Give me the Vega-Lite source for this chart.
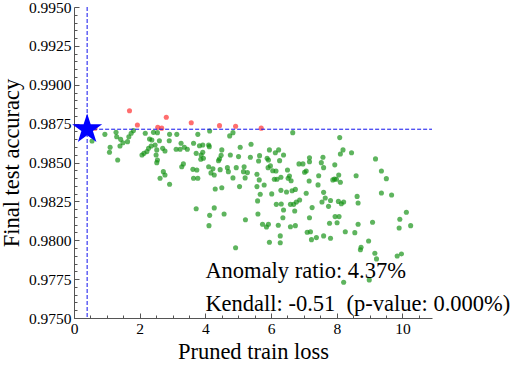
{
  "$schema": "https://vega.github.io/schema/vega-lite/v6.json",
  "width": 358,
  "height": 311,
  "autosize": {"type": "none"},
  "padding": {"left": 74, "top": 7, "right": 83, "bottom": 47},
  "config": {"view": {"stroke": null}, "font": "Liberation Serif"},
  "resolve": {"axis": {"x": "independent", "y": "independent"}},
  "datasets": {
    "pts": [
      {"x":1.69,"y":0.98833,"g":"a"},{"x":2.81,"y":0.98791,"g":"a"},{"x":1.93,"y":0.98741,"g":"a"},{"x":2.55,"y":0.98726,"g":"a"},{"x":2.67,"y":0.98721,"g":"a"},{"x":3.57,"y":0.98756,"g":"a"},{"x":0.64,"y":0.98720,"g":"a"},{"x":4.43,"y":0.98737,"g":"a"},{"x":4.92,"y":0.98733,"g":"a"},{"x":5.70,"y":0.98721,"g":"a"},
      {"x":0.55,"y":0.98638,"g":"n"},{"x":0.94,"y":0.98681,"g":"n"},{"x":1.28,"y":0.98694,"g":"n"},{"x":1.30,"y":0.98666,"g":"n"},{"x":1.42,"y":0.98649,"g":"n"},{"x":1.49,"y":0.98627,"g":"n"},{"x":1.63,"y":0.98634,"g":"n"},{"x":1.67,"y":0.98666,"g":"n"},{"x":1.74,"y":0.98688,"g":"n"},{"x":1.81,"y":0.98705,"g":"n"},
      {"x":1.40,"y":0.98606,"g":"n"},{"x":1.10,"y":0.98598,"g":"n"},{"x":1.08,"y":0.98566,"g":"n"},{"x":1.33,"y":0.98516,"g":"n"},{"x":2.17,"y":0.98688,"g":"n"},{"x":2.42,"y":0.98694,"g":"n"},{"x":2.54,"y":0.98692,"g":"n"},{"x":2.37,"y":0.98645,"g":"n"},{"x":2.30,"y":0.98651,"g":"n"},{"x":2.60,"y":0.98640,"g":"n"},
      {"x":2.47,"y":0.98613,"g":"n"},{"x":2.35,"y":0.98606,"g":"n"},{"x":2.27,"y":0.98591,"g":"n"},{"x":2.22,"y":0.98570,"g":"n"},{"x":2.13,"y":0.98559,"g":"n"},{"x":2.07,"y":0.98548,"g":"n"},{"x":2.52,"y":0.98581,"g":"n"},{"x":2.50,"y":0.98548,"g":"n"},{"x":2.54,"y":0.98516,"g":"n"},{"x":2.52,"y":0.98499,"g":"n"},
      {"x":2.70,"y":0.98591,"g":"n"},{"x":2.77,"y":0.98574,"g":"n"},{"x":2.91,"y":0.98681,"g":"n"},{"x":3.13,"y":0.98681,"g":"n"},{"x":2.90,"y":0.98640,"g":"n"},{"x":3.26,"y":0.98624,"g":"n"},{"x":3.11,"y":0.98585,"g":"n"},{"x":3.23,"y":0.98585,"g":"n"},{"x":3.36,"y":0.98598,"g":"n"},{"x":3.45,"y":0.98585,"g":"n"},
      {"x":3.64,"y":0.98624,"g":"n"},{"x":3.77,"y":0.98681,"g":"n"},{"x":3.72,"y":0.98559,"g":"n"},{"x":3.28,"y":0.98473,"g":"n"},{"x":3.33,"y":0.98491,"g":"n"},{"x":3.62,"y":0.98456,"g":"n"},{"x":3.74,"y":0.98452,"g":"n"},{"x":2.72,"y":0.98441,"g":"n"},{"x":2.77,"y":0.98420,"g":"n"},{"x":2.62,"y":0.98399,"g":"n"},
      {"x":2.91,"y":0.98360,"g":"n"},{"x":3.64,"y":0.98399,"g":"n"},{"x":3.77,"y":0.98399,"g":"n"},
      {"x":4.13,"y":0.98703,"g":"n"},{"x":4.74,"y":0.98671,"g":"n"},{"x":4.84,"y":0.98692,"g":"n"},{"x":6.66,"y":0.98692,"g":"n"},{"x":3.82,"y":0.98608,"g":"n"},{"x":3.92,"y":0.98613,"g":"n"},{"x":4.10,"y":0.98613,"g":"n"},{"x":4.12,"y":0.98602,"g":"n"},{"x":3.87,"y":0.98548,"g":"n"},{"x":3.92,"y":0.98566,"g":"n"},
      {"x":3.86,"y":0.98521,"g":"n"},{"x":3.94,"y":0.98527,"g":"n"},{"x":4.50,"y":0.98581,"g":"n"},{"x":4.48,"y":0.98546,"g":"n"},{"x":4.43,"y":0.98523,"g":"n"},{"x":4.40,"y":0.98512,"g":"n"},{"x":4.76,"y":0.98548,"g":"n"},{"x":5.06,"y":0.98598,"g":"n"},{"x":5.39,"y":0.98617,"g":"n"},{"x":5.01,"y":0.98538,"g":"n"},
      {"x":5.37,"y":0.98534,"g":"n"},{"x":5.62,"y":0.98510,"g":"n"},{"x":5.65,"y":0.98544,"g":"n"},{"x":5.95,"y":0.98581,"g":"n"},{"x":6.13,"y":0.98563,"g":"n"},{"x":6.23,"y":0.98581,"g":"n"},{"x":6.38,"y":0.98548,"g":"n"},{"x":6.26,"y":0.98512,"g":"n"},{"x":5.88,"y":0.98527,"g":"n"},{"x":5.92,"y":0.98516,"g":"n"},
      {"x":5.98,"y":0.98478,"g":"n"},{"x":5.91,"y":0.98467,"g":"n"},{"x":6.05,"y":0.98447,"g":"n"},{"x":6.15,"y":0.98445,"g":"n"},{"x":6.50,"y":0.98452,"g":"n"},{"x":4.10,"y":0.98473,"g":"n"},{"x":4.23,"y":0.98460,"g":"n"},{"x":4.17,"y":0.98433,"g":"n"},{"x":4.27,"y":0.98420,"g":"n"},{"x":4.45,"y":0.98454,"g":"n"},
      {"x":4.67,"y":0.98467,"g":"n"},{"x":4.94,"y":0.98467,"g":"n"},{"x":4.70,"y":0.98441,"g":"n"},{"x":5.18,"y":0.98473,"g":"n"},{"x":5.16,"y":0.98441,"g":"n"},{"x":5.28,"y":0.98435,"g":"n"},{"x":5.21,"y":0.98401,"g":"n"},{"x":4.84,"y":0.98401,"g":"n"},{"x":5.57,"y":0.98424,"g":"n"},{"x":5.64,"y":0.98388,"g":"n"},
      {"x":5.79,"y":0.98355,"g":"n"},{"x":6.10,"y":0.98392,"g":"n"},{"x":6.18,"y":0.98392,"g":"n"},{"x":6.30,"y":0.98405,"g":"n"},{"x":6.52,"y":0.98399,"g":"n"},{"x":6.56,"y":0.98413,"g":"n"},{"x":6.61,"y":0.98383,"g":"n"},{"x":6.85,"y":0.98491,"g":"n"},{"x":6.97,"y":0.98491,"g":"n"},{"x":7.17,"y":0.98531,"g":"n"},
      {"x":7.17,"y":0.98505,"g":"n"},{"x":7.07,"y":0.98445,"g":"n"},{"x":7.02,"y":0.98437,"g":"n"},{"x":7.16,"y":0.98381,"g":"n"},{"x":7.45,"y":0.98415,"g":"n"},{"x":5.04,"y":0.98345,"g":"n"},{"x":5.57,"y":0.98345,"g":"n"},{"x":4.30,"y":0.98330,"g":"n"},{"x":4.50,"y":0.98338,"g":"n"},
      {"x":8.09,"y":0.98660,"g":"n"},{"x":8.19,"y":0.98581,"g":"n"},{"x":8.11,"y":0.98555,"g":"n"},{"x":8.45,"y":0.98563,"g":"n"},{"x":7.58,"y":0.98534,"g":"n"},{"x":7.53,"y":0.98499,"g":"n"},{"x":7.60,"y":0.98467,"g":"n"},{"x":7.94,"y":0.98485,"g":"n"},{"x":9.18,"y":0.98523,"g":"n"},{"x":9.36,"y":0.98445,"g":"n"},
      {"x":9.51,"y":0.98396,"g":"n"},{"x":8.06,"y":0.98420,"g":"n"},{"x":7.93,"y":0.98394,"g":"n"},{"x":7.88,"y":0.98388,"g":"n"},{"x":7.99,"y":0.98392,"g":"n"},{"x":8.11,"y":0.98373,"g":"n"},{"x":8.59,"y":0.98415,"g":"n"},{"x":7.43,"y":0.98356,"g":"n"},
      {"x":3.72,"y":0.98203,"g":"n"},{"x":4.27,"y":0.98208,"g":"n"},{"x":4.13,"y":0.98160,"g":"n"},{"x":4.57,"y":0.98169,"g":"n"},{"x":4.11,"y":0.98094,"g":"n"},{"x":5.22,"y":0.98132,"g":"n"},{"x":4.92,"y":0.97952,"g":"n"},{"x":5.67,"y":0.98296,"g":"n"},{"x":6.02,"y":0.98298,"g":"n"},{"x":5.59,"y":0.98253,"g":"n"},
      {"x":5.60,"y":0.98169,"g":"n"},{"x":5.74,"y":0.98103,"g":"n"},{"x":5.92,"y":0.98103,"g":"n"},{"x":5.86,"y":0.98085,"g":"n"},{"x":6.22,"y":0.98096,"g":"n"},{"x":6.16,"y":0.98231,"g":"n"},{"x":6.31,"y":0.98233,"g":"n"},{"x":6.38,"y":0.98195,"g":"n"},{"x":6.30,"y":0.98321,"g":"n"},{"x":6.47,"y":0.98310,"g":"n"},
      {"x":6.64,"y":0.98318,"g":"n"},{"x":6.74,"y":0.98327,"g":"n"},{"x":6.59,"y":0.98231,"g":"n"},{"x":6.69,"y":0.98231,"g":"n"},{"x":6.77,"y":0.98246,"g":"n"},{"x":6.87,"y":0.98259,"g":"n"},{"x":6.72,"y":0.98188,"g":"n"},{"x":6.36,"y":0.98145,"g":"n"},{"x":6.59,"y":0.98087,"g":"n"},{"x":6.74,"y":0.98094,"g":"n"},
      {"x":6.28,"y":0.98028,"g":"n"},{"x":6.28,"y":0.97984,"g":"n"},{"x":5.95,"y":0.97987,"g":"n"},{"x":7.07,"y":0.98302,"g":"n"},{"x":7.17,"y":0.98145,"g":"n"},{"x":7.25,"y":0.98210,"g":"n"},{"x":7.10,"y":0.98051,"g":"n"},{"x":7.20,"y":0.98055,"g":"n"},{"x":7.23,"y":0.98004,"g":"n"},{"x":7.38,"y":0.98017,"g":"n"},
      {"x":7.60,"y":0.98308,"g":"n"},{"x":7.65,"y":0.98272,"g":"n"},{"x":7.55,"y":0.98246,"g":"n"},{"x":7.81,"y":0.98256,"g":"n"},{"x":7.75,"y":0.98218,"g":"n"},{"x":8.05,"y":0.98250,"g":"n"},{"x":8.14,"y":0.98235,"g":"n"},{"x":8.21,"y":0.98246,"g":"n"},{"x":8.62,"y":0.98282,"g":"n"},{"x":8.65,"y":0.98240,"g":"n"},
      {"x":9.36,"y":0.98304,"g":"n"},{"x":9.67,"y":0.98291,"g":"n"},{"x":7.95,"y":0.98152,"g":"n"},{"x":8.07,"y":0.98152,"g":"n"},{"x":7.78,"y":0.98109,"g":"n"},{"x":8.01,"y":0.98113,"g":"n"},{"x":8.65,"y":0.98103,"g":"n"},{"x":9.09,"y":0.98116,"g":"n"},{"x":10.12,"y":0.98180,"g":"n"},{"x":9.92,"y":0.98135,"g":"n"},
      {"x":10.25,"y":0.98094,"g":"n"},{"x":9.90,"y":0.98079,"g":"n"},{"x":8.26,"y":0.98055,"g":"n"},{"x":8.55,"y":0.98049,"g":"n"},{"x":7.60,"y":0.98028,"g":"n"},{"x":7.81,"y":0.98013,"g":"n"},{"x":8.97,"y":0.97995,"g":"n"},{"x":8.74,"y":0.97955,"g":"n"},{"x":8.72,"y":0.97939,"g":"n"},{"x":9.16,"y":0.97916,"g":"n"},
      {"x":9.21,"y":0.97880,"g":"n"},{"x":9.84,"y":0.97899,"g":"n"},{"x":9.97,"y":0.97912,"g":"n"},{"x":8.21,"y":0.97730,"g":"n"},{"x":8.99,"y":0.97745,"g":"n"}
    ],
    "notes": [
      {"x": 4.0, "y": 0.97757, "t": "Anomaly ratio: 4.37%"},
      {"x": 4.0, "y": 0.97545, "t": "Kendall: -0.51 \u00a0(p-value: 0.000%)"}
    ],
    "dummy": [{"x": 0.4, "y": 0.98714}]
  },
  "layer": [
    {
      "data": {"name": "pts"},
      "mark": {"type": "circle", "size": 26, "opacity": 0.68},
      "encoding": {
        "x": {
          "field": "x", "type": "quantitative",
          "scale": {"domain": [0, 10.9], "nice": false, "zero": false},
          "axis": {
            "orient": "bottom",
            "title": "Pruned train loss",
            "titleFontSize": 22.5, "titleFont": "Liberation Serif", "titleFontWeight": "normal", "titleColor": "black", "titlePadding": 4,
            "values": [0, 2, 4, 6, 8, 10], "format": "d",
            "labelFontSize": 15.5, "labelFont": "Liberation Serif", "labelColor": "black",
            "labelFlush": false, "labelOverlap": false, "labelPadding": 3,
            "ticks": false, "grid": false, "domainColor": "#555"
          }
        },
        "y": {
          "field": "y", "type": "quantitative",
          "scale": {"domain": [0.975, 0.995], "nice": false, "zero": false},
          "axis": {
            "orient": "left",
            "title": "Final test accuracy",
            "titleFontSize": 22.5, "titleFont": "Liberation Serif", "titleFontWeight": "normal", "titleColor": "black", "titlePadding": 5,
            "values": [0.975, 0.9775, 0.98, 0.9825, 0.985, 0.9875, 0.99, 0.9925, 0.995], "format": ".4f",
            "labelFontSize": 15.5, "labelFont": "Liberation Serif", "labelColor": "black",
            "labelFlush": false, "labelOverlap": false, "labelPadding": 3,
            "ticks": false, "grid": false, "domainColor": "#555"
          }
        },
        "color": {
          "field": "g", "type": "nominal",
          "scale": {"domain": ["n", "a"], "range": ["#119011", "#ff2a2a"]},
          "legend": null
        }
      }
    },
    {
      "data": {"name": "dummy"},
      "mark": {"type": "point", "opacity": 0},
      "encoding": {
        "x": {"field": "x", "type": "quantitative",
              "axis": {"orient": "bottom", "title": null, "labels": false, "domain": false, "grid": false,
                       "values": [0, 2, 4, 6, 8, 10], "tickSize": 5, "offset": -5, "tickColor": "#555"}},
        "y": {"field": "y", "type": "quantitative",
              "axis": {"orient": "left", "title": null, "labels": false, "domain": false, "grid": false,
                       "values": [0.975, 0.9775, 0.98, 0.9825, 0.985, 0.9875, 0.99, 0.9925, 0.995], "tickSize": 5, "offset": -5, "tickColor": "#555"}}
      }
    },
    {
      "data": {"name": "dummy"},
      "mark": {"type": "point", "opacity": 0},
      "encoding": {
        "x": {"field": "x", "type": "quantitative",
              "axis": {"orient": "bottom", "title": null, "labels": false, "domain": false, "grid": false,
                       "values": [0.5,1,1.5,2.5,3,3.5,4.5,5,5.5,6.5,7,7.5,8.5,9,9.5,10.5], "tickSize": 3, "offset": -3, "tickColor": "#555"}},
        "y": {"field": "y", "type": "quantitative",
              "axis": {"orient": "left", "title": null, "labels": false, "domain": false, "grid": false,
                       "values": [0.9755,0.976,0.9765,0.977,0.978,0.9785,0.979,0.9795,0.9805,0.981,0.9815,0.982,0.983,0.9835,0.984,0.9845,0.9855,0.986,0.9865,0.987,0.988,0.9885,0.989,0.9895,0.9905,0.991,0.9915,0.992,0.993,0.9935,0.994,0.9945], "tickSize": 3, "offset": -3, "tickColor": "#555"}}
      }
    },
    {
      "data": {"values": [{"x": 0.4}]},
      "mark": {"type": "rule", "color": "#1010ee", "strokeDash": [4, 2], "strokeWidth": 1},
      "encoding": {"x": {"field": "x", "type": "quantitative", "axis": null}}
    },
    {
      "data": {"values": [{"x": 0.4, "x2": 10.9, "y": 0.98714}]},
      "mark": {"type": "rule", "color": "#1010ee", "strokeDash": [4, 2], "strokeWidth": 1},
      "encoding": {
        "x": {"field": "x", "type": "quantitative", "axis": null},
        "x2": {"field": "x2"},
        "y": {"field": "y", "type": "quantitative", "axis": null}
      }
    },
    {
      "data": {"name": "dummy"},
      "mark": {"type": "point", "filled": true, "opacity": 1, "color": "#0000ff", "size": 1000,
               "shape": "M0,-1L0.2245,-0.309L0.951,-0.309L0.363,0.118L0.588,0.809L0,0.382L-0.588,0.809L-0.363,0.118L-0.951,-0.309L-0.2245,-0.309Z"},
      "encoding": {
        "x": {"field": "x", "type": "quantitative", "axis": null},
        "y": {"field": "y", "type": "quantitative", "axis": null}
      }
    },
    {
      "data": {"name": "notes"},
      "mark": {"type": "text", "align": "left", "baseline": "alphabetic", "fontSize": 22.5, "font": "Liberation Serif", "color": "black"},
      "encoding": {
        "x": {"field": "x", "type": "quantitative", "axis": null},
        "y": {"field": "y", "type": "quantitative", "axis": null},
        "text": {"field": "t"}
      }
    }
  ]
}
